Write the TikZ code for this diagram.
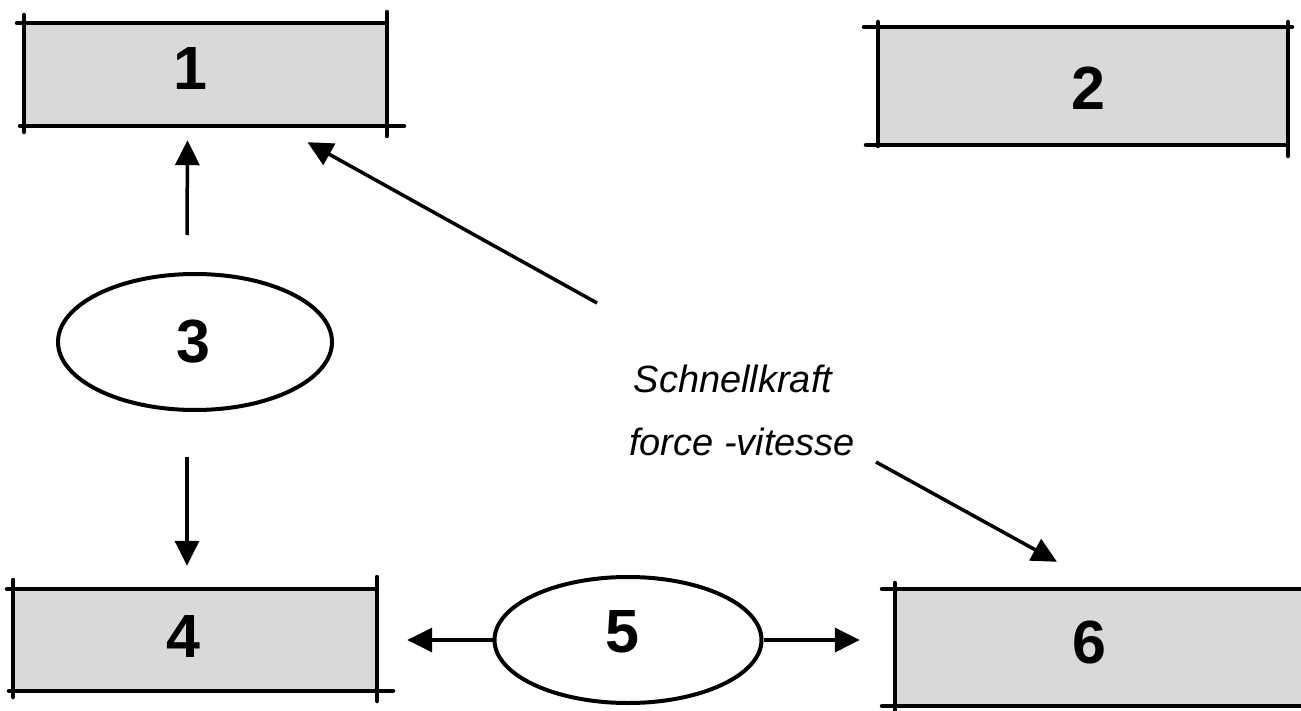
\documentclass[tikz,border=0pt]{standalone}
\usepackage{fontspec}
\setmainfont{Liberation Sans}
\usetikzlibrary{shapes.geometric,arrows.meta}
\begin{document}
\begin{tikzpicture}[x=1pt,y=-1pt,
  boxfill/.style={draw=none,fill=black!15,rectangle,inner sep=0pt},
  frame/.style={line width=4.5pt,line cap=round},
  oval/.style={ellipse,draw,line width=4pt,inner sep=0pt,fill=white},
  num/.style={font=\fontsize{61}{61}\selectfont\bfseries},
  arr/.style={line width=3.5pt,-{Triangle[length=25pt,width=24pt]}},
  hand/.style={font=\fontsize{38}{38}\selectfont\itshape,inner sep=0pt,anchor=base}]
\useasboundingbox (0,0) rectangle (1301,711);
\fill[white] (0,0) rectangle (1301,711);
% box 1
\node[boxfill,minimum width=363pt,minimum height=103pt] (b1) at (205.5,74.5) {};
\draw[frame] (17,23) -- (387,23);
\draw[frame] (20,126) -- (404,126);
\draw[frame] (24,15) -- (24,132);
\draw[frame] (387,12) -- (387,136);
\node[num] (t1) at (190,69) {1};
% box 2
\node[boxfill,minimum width=410pt,minimum height=118pt] (b2) at (1083,86) {};
\draw[frame] (864,27) -- (1292,27);
\draw[frame] (866,145) -- (1287,145);
\draw[frame] (878,22) -- (878,146);
\draw[frame] (1288,22) -- (1288,156);
\node[num] (t2) at (1088,88) {2};
% box 4
\node[boxfill,minimum width=364pt,minimum height=102pt] (b4) at (195,640) {};
\draw[frame] (7,589) -- (377,589);
\draw[frame] (9,691) -- (393,691);
\draw[frame] (13,580) -- (13,697);
\draw[frame] (377,577) -- (377,701);
\node[num] (t4) at (183,637) {4};
% box 6
\node[boxfill,minimum width=406pt,minimum height=117pt] (b6) at (1098,647.5) {};
\draw[frame] (882,589) -- (1303,589);
\draw[frame] (882,706) -- (1303,706);
\draw[frame] (895,583) -- (895,713);
\node[num] (t6) at (1089,642) {6};
% ellipses
\node[oval,minimum width=274pt,minimum height=136pt] (e3) at (195,342) {};
\node[num] (t3) at (193,342) {3};
\node[oval,minimum width=267pt,minimum height=126pt] (e5) at (628,640) {};
\node[num] (t5) at (622,632) {5};
% label
\node[hand] (lbl1) at (733,392) {Schnellkraft};
\node[hand] (lbl2) at (742,455) {force -vitesse};
\coordinate (s1) at (597,303);
\coordinate (s6) at (876,462);
% arrows
\draw[arr] ([shift={(-8,-37)}]e3.north) -- ([shift={(-18,14)}]b1.south);
\draw[arr] ([shift={(-8,45)}]e3.south) -- ([shift={(-8,-23)}]b4.north);
\draw[arr] (s1) -- ([shift={(102,16)}]b1.south);
\draw[arr] (s6) -- ([shift={(-41,-27)}]b6.north);
\draw[arr] (e5.west) -- ([xshift=30]b4.east |- e5.west);
\draw[arr] (e5.east) -- ([xshift=-35]b6.west |- e5.east);
\end{tikzpicture}
\end{document}
